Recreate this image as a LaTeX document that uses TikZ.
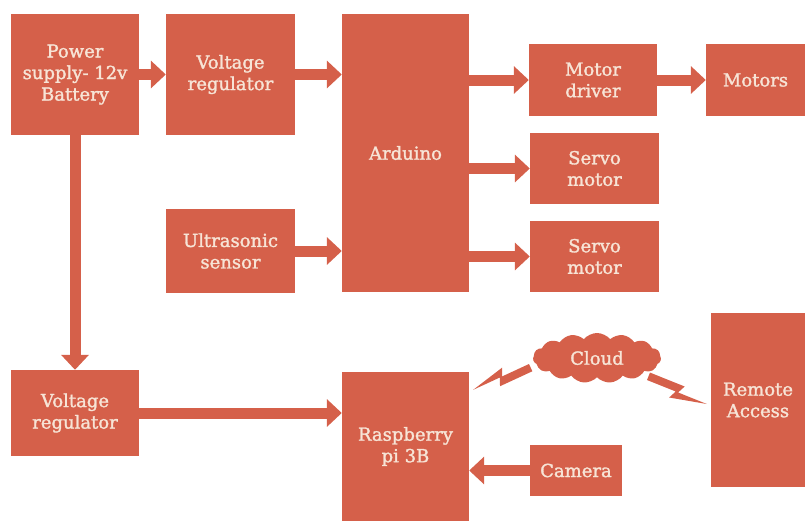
\documentclass[tikz,border=0pt]{standalone}
\usepackage{fontspec}
\usepackage{xcolor}
\usepackage{tikz}
\usetikzlibrary{arrows.meta,calc,shapes.symbols}
\newfontfamily\blockfont[FakeBold=1.6]{DejaVu Serif}
\definecolor{boxcol}{HTML}{D5604A}
\definecolor{txtcol}{HTML}{F7E4D6}
\tikzset{
  block/.style={fill=boxcol, text=txtcol, align=center, inner sep=0pt,
    font=\blockfont\fontsize{18}{21.5}\selectfont},
  fat/.style={draw=boxcol, line width=11pt,
    -{Triangle[width=27pt,length=15pt]}, shorten <=-0.5pt}
}
\newcommand{\zap}[2]{%
  \fill[boxcol] ($(#1)!8pt!90:(#2)$) -- ($(#1)!0.58!(#2)!8pt!90:(#2)$)
    -- ($(#1)!0.52!(#2)$) -- (#2) -- ($(#1)!0.42!(#2)!-8pt!90:(#2)$)
    -- ($(#1)!0.48!(#2)$) -- (#1) -- cycle;}

\begin{document}
\begin{tikzpicture}[x=1pt,y=-1pt]
    \useasboundingbox (0,0) rectangle (805,530);
    \node[block, minimum width=128pt, minimum height=121pt] (psu) at (75,74.5) {Power\\supply- 12v\\Battery};
    \node[block, minimum width=129pt, minimum height=121pt] (vr1) at (230.5,74.5) {Voltage\\regulator};
    \node[block, minimum width=127pt, minimum height=278pt] (ard) at (405.5,153) {Arduino};
    \node[block, minimum width=128pt, minimum height=72pt] (md) at (593,80) {Motor\\driver};
    \node[block, minimum width=99pt, minimum height=72pt] (mot) at (755.5,80) {Motors};
    \node[block, minimum width=129pt, minimum height=71pt] (sv1) at (594.5,168.5) {Servo\\motor};
    \node[block, minimum width=129pt, minimum height=71pt] (sv2) at (594.5,256.5) {Servo\\motor};
    \node[block, minimum width=129pt, minimum height=84pt] (us) at (230.5,251) {Ultrasonic\\sensor};
    \node[block, minimum width=128pt, minimum height=86pt] (vr2) at (75,413) {Voltage\\regulator};
    \node[block, minimum width=127pt, minimum height=149pt] (rpi) at (405.5,446.5) {Raspberry\\pi 3B};
    \node[block, minimum width=92pt, minimum height=51pt] (cam) at (576,470.5) {Camera};
    \node[block, minimum width=94pt, minimum height=174pt] (ra) at (758,400) {Remote\\Access};
    \node[block, cloud, cloud puffs=15, cloud puff arc=100, aspect=2.6,
          minimum width=128pt, minimum height=50pt] (cloud) at (597,358) {Cloud};

    \draw[fat] (psu) -- (vr1);
    \draw[fat] (vr1) -- (vr1 -| ard.west);
    \draw[fat] (ard.east |- md) -- (md);
    \draw[fat] (md) -- (mot);
    \draw[fat] (ard.east |- sv1) -- (sv1);
    \draw[fat] (ard.east |- sv2) -- (sv2);
    \draw[fat] (us) -- (us -| ard.west);
    \draw[fat] (psu) -- (vr2);
    \draw[fat] (vr2) -- (vr2 -| rpi.west);
    \draw[fat] (cam) -- (cam -| rpi.east);

    \coordinate (z1) at ($(cloud)+(-68,6)$);
    \coordinate (z1tip) at ($(rpi.north east)+(4,18)$);
    \coordinate (z2) at ($(cloud)+(50,22)$);
    \coordinate (z2tip) at ($(ra.west)+(-4,4)$);
    \zap{z1}{z1tip}
    \zap{z2}{z2tip}
\end{tikzpicture}
\end{document}
